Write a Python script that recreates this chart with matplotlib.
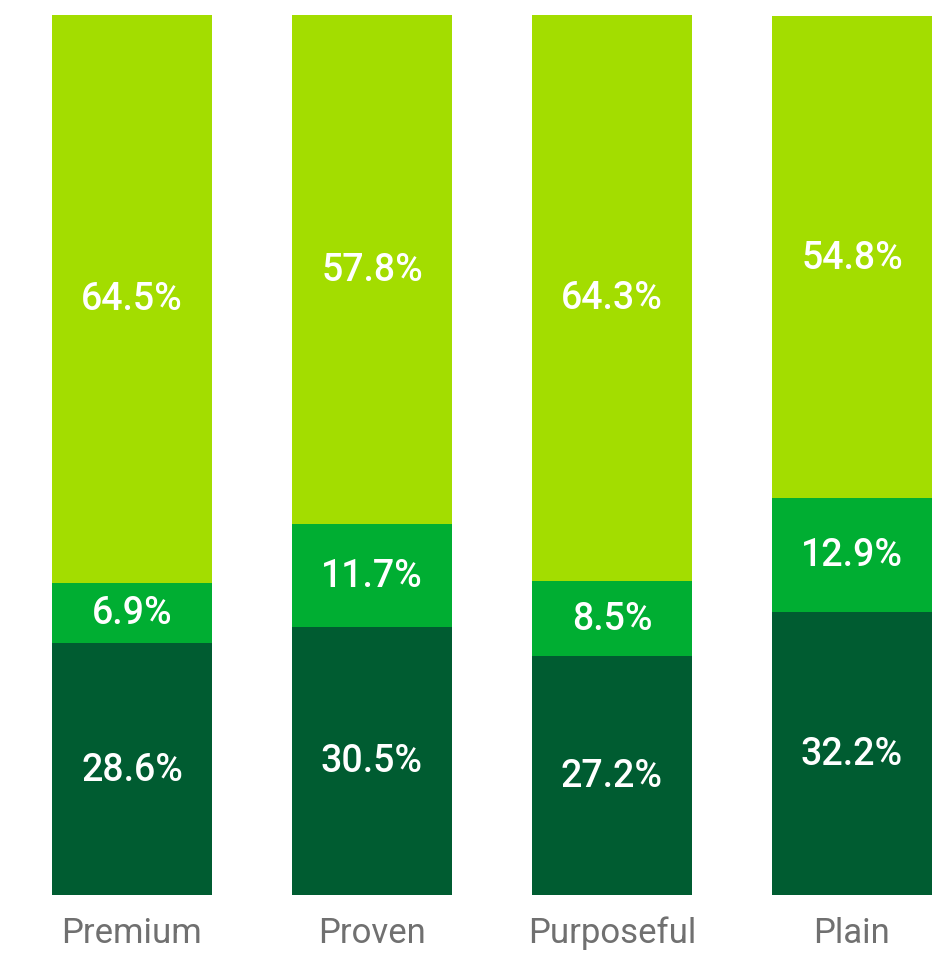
import matplotlib.pyplot as plt
import numpy as np

categories = ["Premium", "Proven", "Purposeful", "Plain"]
dark = [28.6, 30.5, 27.2, 32.2]
mid = [6.9, 11.7, 8.5, 12.9]
light = [64.5, 57.8, 64.3, 54.8]

colors = ["#005c31", "#00ae32", "#a3dd00"]

plt.rcParams['font.family'] = ['Roboto', 'DejaVu Sans']

fig = plt.figure(figsize=(9.45, 9.54), dpi=100)
ax = fig.add_axes([52 / 945, 58 / 954, 880 / 945, 880 / 954])

x = np.arange(len(categories))
bottom = np.zeros(len(categories))
for vals, c in zip([dark, mid, light], colors):
    vals = np.array(vals)
    ax.bar(x, vals, bottom=bottom, width=2 / 3, color=c, linewidth=0)
    for xi, b, v in zip(x, bottom, vals):
        ax.text(xi, b + v / 2, f"{v:.1f}%", ha="center", va="center",
                color="white", fontsize=27, fontweight="medium")
    bottom += vals

ax.set_xlim(-1 / 3, 3 + 1 / 3)
ax.set_ylim(0, 100)
ax.set_xticks(x)
ax.set_xticklabels(categories, fontsize=25, color="#707070", fontweight="normal")
ax.tick_params(axis="x", length=0, pad=15)
ax.set_yticks([])
for s in ax.spines.values():
    s.set_visible(False)

fig.savefig("out.png", dpi=100)
